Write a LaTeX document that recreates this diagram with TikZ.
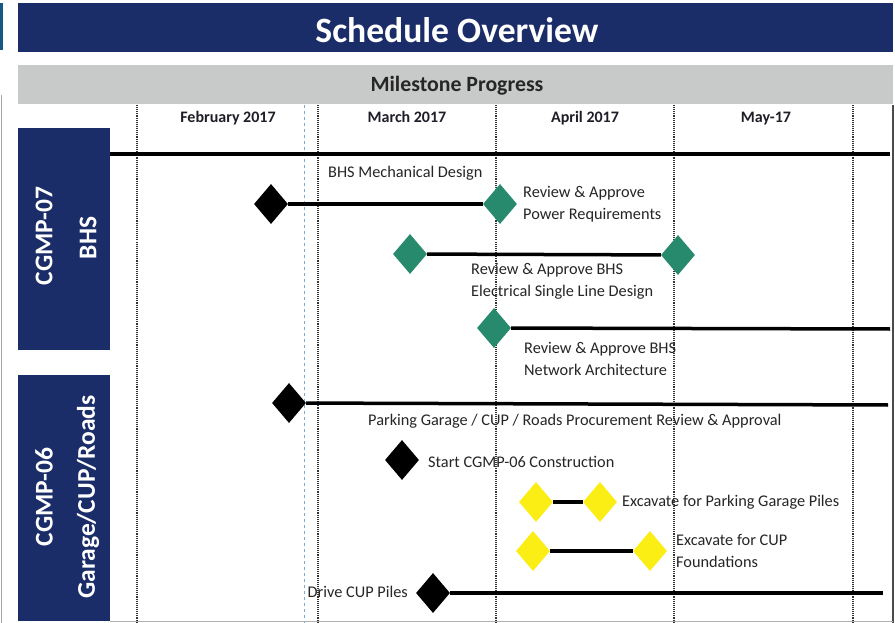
\documentclass[tikz,border=0pt]{standalone}
\usepackage{fontspec}
\setmainfont{Carlito}
\usetikzlibrary{shapes.geometric}
\definecolor{navy}{RGB}{27,45,104}
\definecolor{barGray}{RGB}{200,202,202}
\definecolor{msGreen}{RGB}{40,138,108}
\definecolor{msYellow}{RGB}{250,238,20}
\definecolor{dashBlue}{RGB}{120,170,210}
\definecolor{monthText}{RGB}{30,30,40}
\tikzset{
  ms/.style={diamond, minimum width=34pt, minimum height=40pt, inner sep=0pt, draw=none},
  msblack/.style={ms, fill=black},
  msgreen/.style={ms, fill=msGreen},
  msyellow/.style={ms, fill=msYellow},
  bar/.style={line width=3.5pt, black},
  lbl/.style={inner sep=0pt, font=\fontsize{16.3}{22}\selectfont, align=left, text=black!85},
  month/.style={inner sep=0pt, anchor=base, font=\fontsize{16}{19}\selectfont\bfseries, text=monthText},
  side/.style={inner sep=0pt, rotate=90, text=white, font=\fontsize{25.5}{30}\selectfont\bfseries},
  grid/.style={densely dotted, line width=1.1pt, black!80},
}
\begin{document}
\begin{tikzpicture}[x=1pt,y=-1pt]
\useasboundingbox (0,0) rectangle (895,623);
\fill[white] (0,0) rectangle (895,623);
% left edge artefacts
\fill[navy!80!cyan] (0,3) rectangle (3,50);
\draw[gray!70, line width=1.5pt] (1.5,95) -- (1.5,623);
% title bar
\fill[navy] (18,3) rectangle (893,52);
\node[text=white, inner sep=0pt, font=\fontsize{35.6}{42}\selectfont\bfseries] (title) at (457,30) {Schedule Overview};
% milestone bar
\fill[barGray] (18,65) rectangle (893,104);
\node[inner sep=0pt, text=black!85, font=\fontsize{21.8}{26}\selectfont\bfseries] (mp) at (457,86) {Milestone Progress};
% table borders
\draw[gray!60!black, line width=1.2pt] (893,105) -- (893,623);
\draw[gray!60, line width=1pt] (110,621.5) -- (893,621.5);
% grid lines
\foreach \gx in {137,318,496,674,853} \draw[grid] (\gx,105) -- (\gx,623);
\draw[dashBlue, dashed, line width=1pt] (304,105) -- (304,623);
% month labels
\node[month] (feb) at (228,123) {February 2017};
\node[month] (mar) at (407,123) {March 2017};
\node[month] (apr) at (585,123) {April 2017};
\node[month] (may) at (766,123) {May-17};
% side boxes
\fill[navy] (18,128) rectangle (110,350);
\fill[navy] (18,375) rectangle (110,621);
\node[side] (g1a) at (44,236) {CGMP-07};
\node[side] (g1b) at (88,238) {BHS};
\node[side] (g2a) at (44,497) {CGMP-06};
\node[side] (g2b) at (88,497) {Garage/CUP/Roads};
% top rule
\coordinate (topL) at (110,154);
\coordinate (topR) at (890,154);
\draw[bar] (topL) -- (topR);
% row 1
\node[msblack] (m1a) at (271,204) {};
\node[msgreen] (m1b) at (500,204) {};
\draw[bar] (m1a) -- (m1b);
\node[lbl, anchor=west] (t1a) at (328,173) {BHS Mechanical Design};
\node[lbl, anchor=west] (t1b) at (523,204) {Review \& Approve\\Power Requirements};
% row 2
\node[msgreen] (m2a) at (410,254) {};
\node[msgreen] (m2b) at (678,255) {};
\draw[bar] (m2a) -- (m2b);
\node[lbl, anchor=west] (t2) at (471,281) {Review \& Approve BHS\\Electrical Single Line Design};
% row 3
\node[msgreen] (m3) at (494,328) {};
\coordinate (r3end) at (890,329);
\draw[bar] (m3) -- (r3end);
\node[lbl, anchor=west] (t3) at (524,359) {Review \& Approve BHS\\Network Architecture};
% row 4
\node[msblack] (m4) at (289,403) {};
\coordinate (r4end) at (888,405);
\draw[bar] (m4) -- (r4end);
\node[lbl, anchor=west] (t4) at (368,421) {Parking Garage / CUP / Roads Procurement Review \& Approval};
% row 5
\node[msblack] (m5) at (402,460) {};
\node[lbl, anchor=west] (t5) at (428,462) {Start CGMP-06 Construction};
% row 6
\node[msyellow] (m6a) at (536,502) {};
\node[msyellow] (m6b) at (600,502) {};
\draw[bar] (m6a) -- (m6b);
\node[lbl, anchor=west] (t6) at (622,502) {Excavate for Parking Garage Piles};
% row 7
\node[msyellow] (m7a) at (533,551) {};
\node[msyellow] (m7b) at (650,551) {};
\draw[bar] (m7a) -- (m7b);
\node[lbl, anchor=west] (t7) at (676,551) {Excavate for CUP\\Foundations};
% row 8
\node[msblack] (m8) at (433,593) {};
\coordinate (r8end) at (883,593);
\draw[bar] (m8) -- (r8end);
\node[lbl, anchor=east] (t8) at (408,592) {Drive CUP Piles};
\end{tikzpicture}
\end{document}
